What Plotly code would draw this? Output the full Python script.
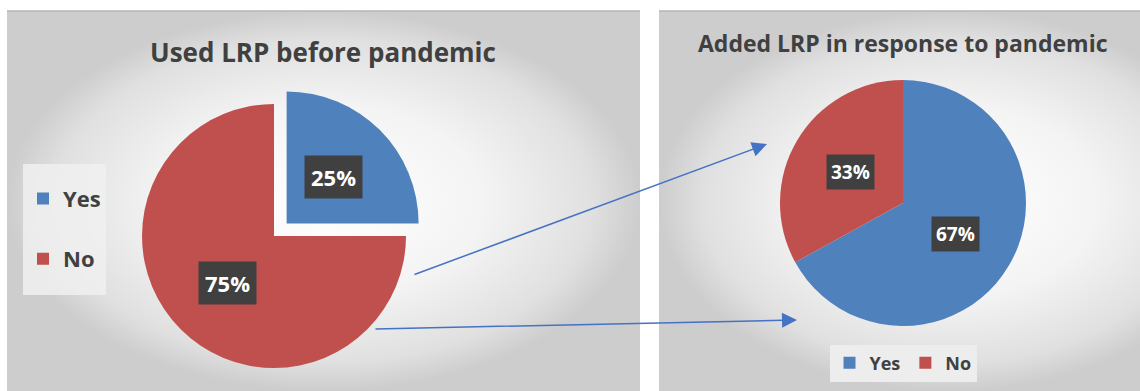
import math
import plotly.graph_objects as go

W, H = 1140, 391

# ---------------- data ----------------
categories = ["Yes", "No"]
before_values = [25, 75]          # Used LRP before pandemic (%)
added_values = [67, 33]           # Added LRP in response to pandemic (%)
title_before = "Used LRP before pandemic"
title_added = "Added LRP in response to pandemic"

# ---------------- style ----------------
BLUE = "#4F81BD"
RED = "#C0504D"
TXT = "#404040"
FONT = "Open Sans"
ARROW = "#4472C4"

fig = go.Figure()

# background panels (radial gradient)
def panel(x0, x1, y0, y1, scale):
    fig.add_trace(go.Scatter(
        x=[x0, x1, x1, x0, x0], y=[y0, y0, y1, y1, y0],
        mode="lines", fill="toself", line=dict(width=0, color="rgba(0,0,0,0)"),
        fillgradient=dict(type="radial", colorscale=scale),
        hoverinfo="skip", showlegend=False))

grad = [[0, "#ffffff"], [0.5, "#f4f4f4"], [0.85, "#e0e0e0"], [1, "#cdcdcd"]]
panel(7, 640, 11, 391, grad)
panel(659, 1240, 11, 391, grad)

# pie geometry
L_cx, L_cy, L_R, L_pull = 274, 236, 132, 0.135
R_cx, R_cy, R_R = 903, 203, 123


def pie_domain(cx, cy, r, pull):
    h = r * (1 + pull)
    return dict(x=[(cx - h) / W, (cx + h) / W], y=[1 - (cy + h) / H, 1 - (cy - h) / H])


left_labels = [f'<span style="font-size:22px;baseline-shift:9px">{c}</span>' for c in categories]

fig.add_trace(go.Pie(
    labels=left_labels, values=before_values, sort=False, direction="clockwise", rotation=0,
    pull=[L_pull, 0], marker=dict(colors=[BLUE, RED], line=dict(width=0)),
    textinfo="none", hoverinfo="label+percent", domain=pie_domain(L_cx, L_cy, L_R, L_pull),
    legend="legend", showlegend=True))

fig.add_trace(go.Pie(
    labels=categories, values=added_values, sort=False, direction="clockwise", rotation=0,
    marker=dict(colors=[BLUE, RED], line=dict(width=0)),
    textinfo="none", hoverinfo="label+percent", domain=pie_domain(R_cx, R_cy, R_R, 0),
    legend="legend2", showlegend=True))

annotations = []


def slice_labels(values, cx, cy, r, pulls, size, pad):
    tot = sum(values)
    cum = 0
    for v, p in zip(values, pulls):
        ang = 2 * math.pi * (cum + v / 2) / tot
        d = 0.5 * r + p * r
        annotations.append(dict(
            x=cx + d * math.sin(ang), y=cy - d * math.cos(ang), xref="x", yref="y",
            text=f"<b>{round(100 * v / tot)}%</b>", showarrow=False,
            font=dict(family=FONT, size=size, color="white"),
            bgcolor="#404040", borderpad=pad))
        cum += v


slice_labels(before_values, L_cx, L_cy, L_R, [L_pull, 0], 22, 6)
slice_labels(added_values, R_cx, R_cy, R_R, [0, 0], 19, 4)

# titles
annotations.append(dict(x=323, y=52, xref="x", yref="y", text=f"<b>{title_before}</b>",
                        showarrow=False, font=dict(family=FONT, size=26, color=TXT)))
annotations.append(dict(x=903, y=43, xref="x", yref="y", text=f"<b>{title_added}</b>",
                        showarrow=False, font=dict(family=FONT, size=23, color=TXT)))

# connector arrows
for (x0, y0, x1, y1) in [(413, 275, 767, 144), (374, 329, 797, 320)]:
    annotations.append(dict(x=x1, y=y1, ax=x0, ay=y0, xref="x", yref="y", axref="x", ayref="y",
                            text="", showarrow=True, arrowhead=2, arrowsize=2, arrowwidth=1.5,
                            arrowcolor=ARROW, standoff=0, startstandoff=0))

fig.update_layout(
    width=W, height=H, margin=dict(l=0, r=0, t=0, b=0),
    paper_bgcolor="white", plot_bgcolor="rgba(0,0,0,0)",
    xaxis=dict(range=[0, W], visible=False, domain=[0, 1], fixedrange=True),
    yaxis=dict(range=[H, 0], visible=False, domain=[0, 1], fixedrange=True),
    annotations=annotations,
    shapes=[
        dict(type="line", x0=7, x1=640, y0=11, y1=11, xref="x", yref="y", line=dict(color="#b5b5b5", width=1.5)),
        dict(type="line", x0=659, x1=1140, y0=11, y1=11, xref="x", yref="y", line=dict(color="#b5b5b5", width=1.5)),
    ],
    legend=dict(x=23 / W, xanchor="left", y=1 - 229 / H, yanchor="middle", orientation="v",
                font=dict(family=FONT, size=44, color=TXT, weight="bold"),
                bgcolor="rgba(240,240,240,0.85)", itemwidth=30, borderwidth=0),
    legend2=dict(x=903 / W, xanchor="center", y=1 - 363 / H, yanchor="middle", orientation="h",
                 font=dict(family=FONT, size=18, color=TXT, weight="bold"),
                 bgcolor="#ededed", itemwidth=30, borderwidth=0),
)

fig.write_html("out.html")
